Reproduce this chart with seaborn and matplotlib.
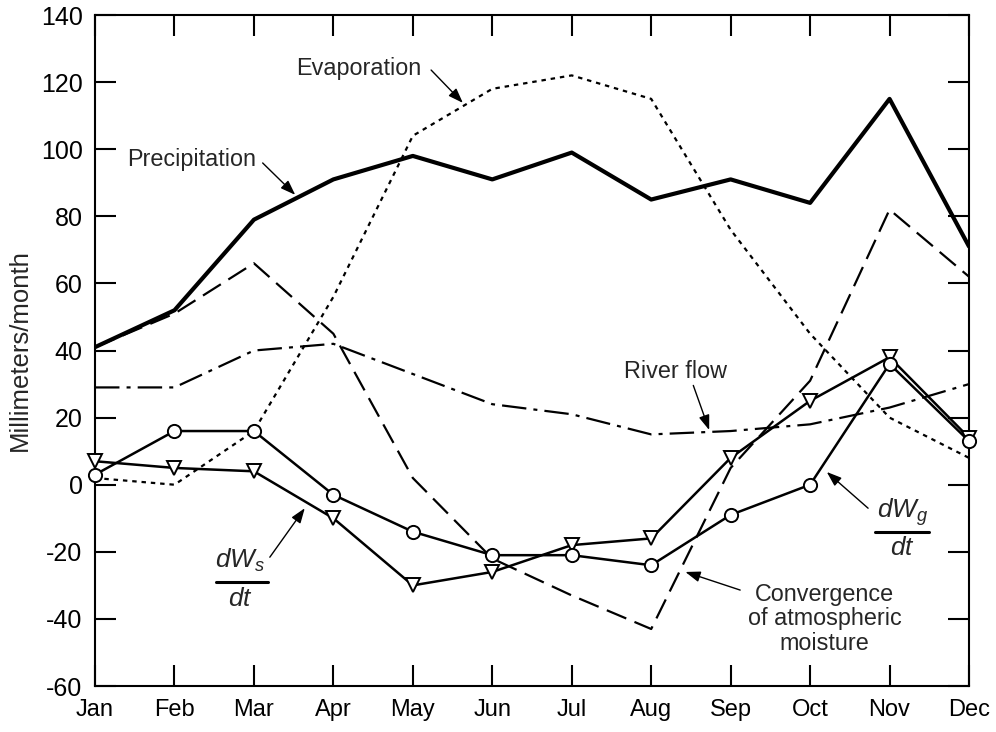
import seaborn as sns
import pandas as pd
import numpy as np
import matplotlib.pyplot as plt

months = ['Jan', 'Feb', 'Mar', 'Apr', 'May', 'Jun',
          'Jul', 'Aug', 'Sep', 'Oct', 'Nov', 'Dec']
precipitation = [41, 52, 79, 91, 98, 91, 99, 85, 91, 84, 115, 71]
evaporation = [2, 0, 16, 56, 104, 118, 122, 115, 76, 45, 20, 8]
convergence = [41, 51, 66, 45, 2, -22, -33, -43, 5, 31, 82, 62]
river_flow = [29, 29, 40, 42, 33, 24, 21, 15, 16, 18, 23, 30]
dws_dt = [7, 5, 4, -10, -30, -26, -18, -16, 8, 25, 38, 14]
dwg_dt = [3, 16, 16, -3, -14, -21, -21, -24, -9, 0, 36, 13]

df = pd.DataFrame({'m': np.arange(len(months)),
                   'precip': precipitation, 'evap': evaporation,
                   'conv': convergence, 'river': river_flow,
                   'dws': dws_dt, 'dwg': dwg_dt})

sns.set_theme(style='ticks')
plt.rcParams['font.family'] = ['Liberation Sans', 'DejaVu Sans']
plt.rcParams['mathtext.fontset'] = 'custom'
plt.rcParams['mathtext.it'] = 'Liberation Sans:italic'
plt.rcParams['mathtext.rm'] = 'Liberation Sans'
plt.rcParams['axes.unicode_minus'] = False

fs = 16.8
fig = plt.figure(figsize=(9.96, 7.32), dpi=100)
ax = fig.add_axes([0.0954, 0.0628, 0.8775, 0.9167])

k = dict(color='black', ax=ax, legend=False)
sns.lineplot(data=df, x='m', y='precip', lw=3, **k)
sns.lineplot(data=df, x='m', y='evap', lw=1.6, linestyle=(0, (2, 2.2)), **k)
sns.lineplot(data=df, x='m', y='conv', lw=1.6, linestyle=(0, (9.5, 4)), **k)
sns.lineplot(data=df, x='m', y='river', lw=1.6, linestyle=(0, (11, 3.2, 1.8, 3.2)), **k)
mk = dict(markersize=9.5, markerfacecolor='white', markeredgecolor='black',
          markeredgewidth=1.4, clip_on=False, zorder=5)
sns.lineplot(data=df, x='m', y='dws', lw=1.8, marker='v', **mk, **k)
sns.lineplot(data=df, x='m', y='dwg', lw=1.8, marker='o', **mk, **k)

ax.set_xlim(0, 11)
ax.set_ylim(-60, 140)
ax.set_xticks(df['m'])
ax.set_xticklabels(months)
ax.set_yticks(np.arange(-60, 141, 20))
ax.set_xlabel('')
ax.set_ylabel('Millimeters/month', fontsize=18.5, labelpad=6)
ax.tick_params(direction='in', length=15, width=1.5, pad=9,
               top=True, right=True, colors='black')
ax.tick_params(axis='x', labelsize=17)
ax.tick_params(axis='y', labelsize=18)
for s in ax.spines.values():
    s.set_linewidth(1.5)
    s.set_color('black')

arr = dict(arrowstyle='-|>,head_length=0.5,head_width=0.18', color='black',
           lw=1, mutation_scale=18, shrinkA=0, shrinkB=0)

ax.text(1.21, 97, 'Precipitation', fontsize=fs, ha='center', va='center')
ax.annotate('', xy=(2.52, 86.4), xytext=(2.11, 95.9), arrowprops=arr)

ax.text(3.32, 124.2, 'Evaporation', fontsize=fs, ha='center', va='center')
ax.annotate('', xy=(4.63, 113.8), xytext=(4.23, 123.6), arrowprops=arr)

ax.text(7.31, 33.6, 'River flow', fontsize=fs, ha='center', va='center')
ax.annotate('', xy=(7.73, 16.3), xytext=(7.53, 29.6), arrowprops=arr)

ax.text(9.18, -40, 'Convergence\nof atmospheric\nmoisture', fontsize=fs,
        ha='center', va='center', linespacing=1.1)
ax.annotate('', xy=(7.43, -26), xytext=(8.12, -31.4), arrowprops=arr)

# dWs/dt fraction
ax.text(1.83, -22.7, '$dW_s$', fontsize=fs + 2, ha='center', va='center')
ax.plot([1.52, 2.18], [-29, -29], color='black', lw=2.2)
ax.text(1.83, -34.2, '$dt$', fontsize=fs + 2, ha='center', va='center')
ax.annotate('', xy=(2.64, -7), xytext=(2.2, -21.6), arrowprops=arr)

# dWg/dt fraction
ax.text(10.16, -8.3, '$dW_g$', fontsize=fs + 2, ha='center', va='center')
ax.plot([9.82, 10.5], [-14.1, -14.1], color='black', lw=2.2)
ax.text(10.16, -19, '$dt$', fontsize=fs + 2, ha='center', va='center')
ax.annotate('', xy=(9.21, 3.8), xytext=(9.73, -7.0), arrowprops=arr)

fig.savefig('out.png', dpi=100)
